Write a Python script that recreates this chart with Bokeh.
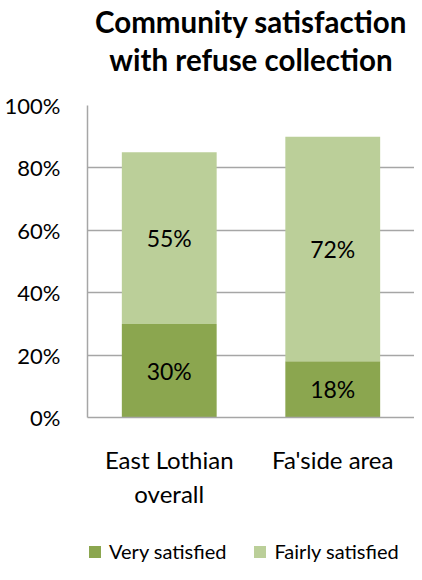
from bokeh.plotting import figure
from bokeh.layouts import column
from bokeh.models import (ColumnDataSource, Legend, LegendItem, Title, PrintfTickFormatter,
                          FixedTicker, Range1d)
from bokeh.embed import file_html
from bokeh.resources import INLINE
from bokeh.core.properties import value

# ---- data ----
categories = ["East Lothian\noverall", "Fa'side area"]
very_satisfied = [30, 18]
fairly_satisfied = [55, 72]
series_names = ["Very satisfied", "Fairly satisfied"]
title_lines = ["Community satisfaction", "with refuse collection"]
y_ticks = [0, 20, 40, 60, 80, 100]

colors = ["#8BA64F", "#BBCF99"]
FONT = "Lato"

src = ColumnDataSource(dict(
    cat=categories,
    very=very_satisfied,
    fairly=fairly_satisfied,
    very_mid=[v / 2 for v in very_satisfied],
    fairly_mid=[v + f / 2 for v, f in zip(very_satisfied, fairly_satisfied)],
    very_lbl=[f"{v}%" for v in very_satisfied],
    fairly_lbl=[f"{f}%" for f in fairly_satisfied],
))

p = figure(x_range=categories, y_range=(0, 100), frame_width=327, frame_height=312,
           output_backend="svg", toolbar_location=None,
           min_border_left=87, min_border_right=0, min_border_top=104, min_border_bottom=100)

renderers = p.vbar_stack(["very", "fairly"], x="cat", width=0.58, color=colors,
                         line_color=None, source=src)

p.text(x="cat", y="very_mid", text="very_lbl", source=src, text_align="center",
       text_baseline="middle", text_font=value(FONT), text_font_size="23px", text_color="#000000")
p.text(x="cat", y="fairly_mid", text="fairly_lbl", source=src, text_align="center",
       text_baseline="middle", text_font=value(FONT), text_font_size="23px", text_color="#000000")

# titles: spacer next to the frame, then line 2, then line 1 on top
p.title = None
p.add_layout(Title(text=" ", text_font_size="1px", standoff=25.5), "above")
t2 = Title(text=title_lines[1], align="center", text_font=FONT, text_font_size="29.5px",
           text_font_style="bold", text_color="#000000", standoff=0)
t1 = Title(text=title_lines[0], align="center", text_font=FONT, text_font_size="29.5px",
           text_font_style="bold", text_color="#000000", standoff=2)
p.add_layout(t2, "above")
p.add_layout(t1, "above")

# axes
p.yaxis.ticker = FixedTicker(ticks=y_ticks)
p.yaxis.formatter = PrintfTickFormatter(format="%d%%")
for ax in (p.xaxis[0], p.yaxis[0]):
    ax.axis_line_color = "#A6A6A6"
    ax.axis_line_width = 1.5
    ax.major_tick_line_color = None
    ax.minor_tick_line_color = None
    ax.major_label_text_font = FONT
    ax.major_label_text_color = "#000000"
p.yaxis.major_label_text_font_size = "22px"
p.xaxis.major_label_text_font_size = "24px"
p.yaxis.major_label_standoff = 21
p.xaxis.major_label_standoff = 21
p.xaxis.major_label_orientation = "horizontal"

p.xgrid.grid_line_color = None
p.ygrid.grid_line_color = "#A6A6A6"
p.ygrid.grid_line_width = 1.5
p.ygrid.ticker = FixedTicker(ticks=y_ticks)
p.outline_line_color = None
p.background_fill_color = "white"
p.border_fill_color = "white"

# ---- legend strip (separate figure under the chart, frame aligned with the chart) ----
lg = figure(x_range=p.x_range, y_range=Range1d(500, 600), frame_width=327, frame_height=48,
            output_backend="svg", toolbar_location=None,
            x_axis_location=None, y_axis_location=None,
            min_border_left=87, min_border_right=0, min_border_top=0, min_border_bottom=0)
lg_renderers = lg.vbar_stack(["very", "fairly"], x="cat", width=0.58, color=colors,
                             line_color=None, source=src)
lg.grid.grid_line_color = None
lg.outline_line_color = None
lg.background_fill_color = "white"
lg.border_fill_color = "white"

legend = Legend(items=[LegendItem(label=n, renderers=[r]) for n, r in zip(series_names, lg_renderers)],
                orientation="horizontal", location=(0, 2),
                label_text_font=FONT, label_text_font_size="20px", label_text_color="#000000",
                glyph_width=15, glyph_height=15, spacing=26, label_standoff=7,
                border_line_color=None, background_fill_alpha=0, margin=0, padding=0)
lg.add_layout(legend, "center")

layout = column(p, lg, spacing=0)
open("out.html", "w").write(file_html(layout, INLINE))
